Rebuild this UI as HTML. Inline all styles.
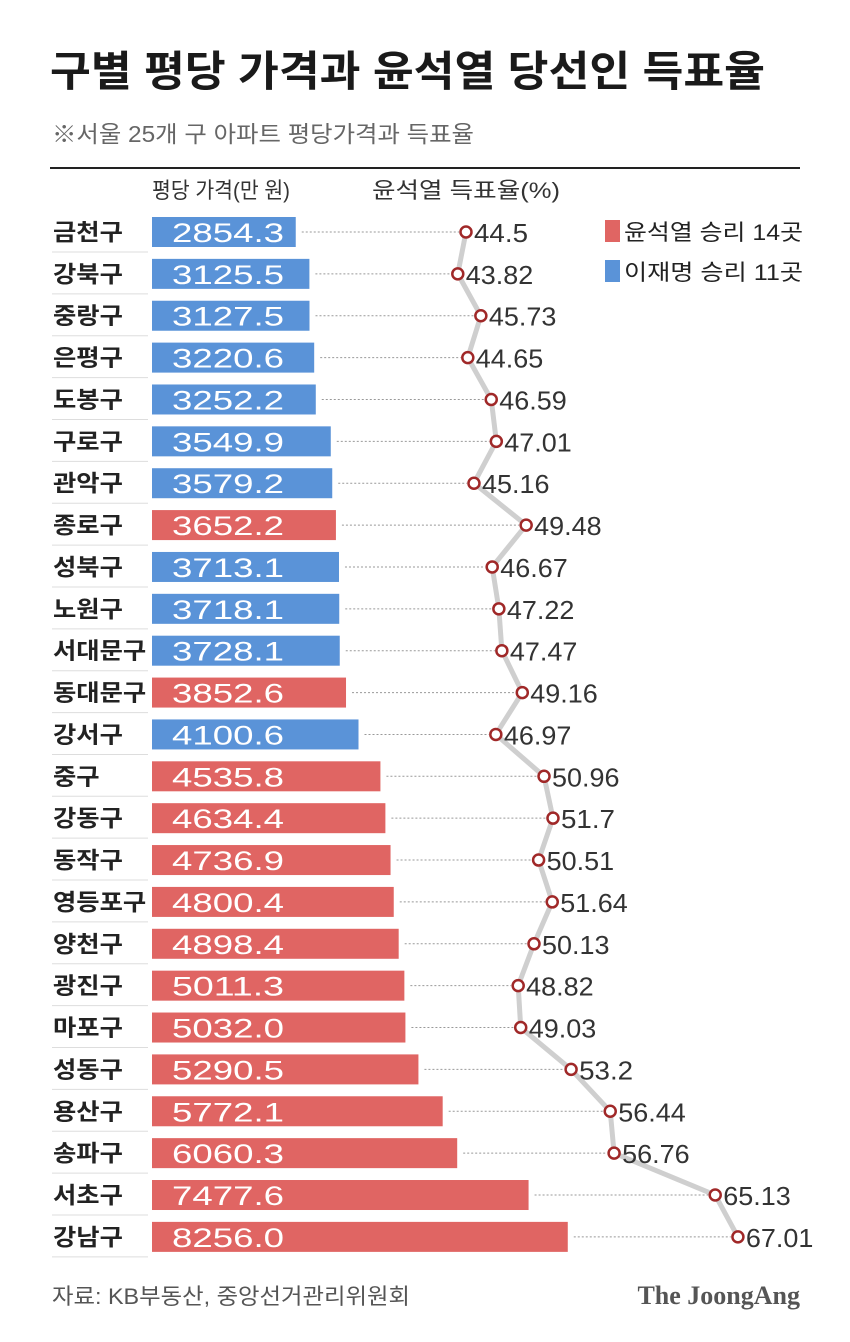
<!DOCTYPE html>
<html><head><meta charset="utf-8">
<style>
body{margin:0;background:#fff;width:850px;height:1337px;overflow:hidden;font-family:"Liberation Sans","Noto Sans CJK KR",sans-serif;color:#222}
svg text{font-family:"Liberation Sans","Noto Sans CJK KR",sans-serif}
</style></head><body>
<svg id="chart" width="850" height="1337" xmlns="http://www.w3.org/2000/svg">
<text x="50" y="86" font-size="42" font-weight="bold" fill="#1a1a1a" textLength="715" lengthAdjust="spacingAndGlyphs">구별 평당 가격과 윤석열 당선인 득표율</text>
<text x="52" y="142" font-size="23" fill="#666" textLength="422" lengthAdjust="spacingAndGlyphs">※서울 25개 구 아파트 평당가격과 득표율</text>
<line x1="50" y1="168" x2="800" y2="168" stroke="#222" stroke-width="2"/>
<text x="152" y="198" font-size="22" fill="#333" textLength="138" lengthAdjust="spacingAndGlyphs">평당 가격(만 원)</text>
<text x="372" y="198" font-size="22" fill="#333" textLength="188" lengthAdjust="spacingAndGlyphs">윤석열 득표율(%)</text>
<rect x="605" y="220" width="15" height="22" fill="#e06563"/>
<text x="624" y="240" font-size="22" fill="#222" textLength="179" lengthAdjust="spacingAndGlyphs">윤석열 승리 14곳</text>
<rect x="605" y="260" width="15" height="22" fill="#5a93d8"/>
<text x="624" y="280" font-size="22" fill="#222" textLength="179" lengthAdjust="spacingAndGlyphs">이재명 승리 11곳</text>
<g id="rows"></g>
<text x="52" y="1304" font-size="22" fill="#555" textLength="358" lengthAdjust="spacingAndGlyphs">자료: KB부동산, 중앙선거관리위원회</text>
<text x="800" y="1304" text-anchor="end" font-size="26" font-weight="bold" fill="#555" style="font-family:'Liberation Serif',serif">The JoongAng</text>
</svg>
<script>
const districts=["금천구","강북구","중랑구","은평구","도봉구","구로구","관악구","종로구","성북구","노원구","서대문구","동대문구","강서구","중구","강동구","동작구","영등포구","양천구","광진구","마포구","성동구","용산구","송파구","서초구","강남구"];
const prices=[2854.3,3125.5,3127.5,3220.6,3252.2,3549.9,3579.2,3652.2,3713.1,3718.1,3728.1,3852.6,4100.6,4535.8,4634.4,4736.9,4800.4,4898.4,5011.3,5032.0,5290.5,5772.1,6060.3,7477.6,8256.0];
const votes=[44.5,43.82,45.73,44.65,46.59,47.01,45.16,49.48,46.67,47.22,47.47,49.16,46.97,50.96,51.7,50.51,51.64,50.13,48.82,49.03,53.2,56.44,56.76,65.13,67.01];
const winners=["L","L","L","L","L","L","L","Y","L","L","L","Y","L","Y","Y","Y","Y","Y","Y","Y","Y","Y","Y","Y","Y"];
const NS="http://www.w3.org/2000/svg";
const g=document.getElementById('rows');
const xBar=v=>152+v*0.05036;
const xVote=v=>466+(v-44.5)*12.08;
const yRow=i=>232+i*41.87;
function mk(t,a){const e=document.createElementNS(NS,t);for(const k in a)e.setAttribute(k,a[k]);g.appendChild(e);return e;}
const pts=votes.map((v,i)=>xVote(v)+","+yRow(i)).join(" ");
const pl=mk('polyline',{points:pts,fill:"none",stroke:"#cfcfcf","stroke-width":5,"stroke-linejoin":"round"});


districts.forEach((d,i)=>{
  const y=yRow(i);
  const sep=mk('line',{x1:52,y1:y+20,x2:148,y2:y+20,stroke:"#ddd","stroke-width":1});
  
  
  const lb=mk('text',{x:53,y:y+8,"font-size":23,"font-weight":"bold",fill:"#222",textLength:d.length*23.3,lengthAdjust:"spacingAndGlyphs"});lb.textContent=d;
  
  
  const w=xBar(prices[i])-152;
  const r=mk('rect',{x:152,y:y-15,width:w,height:30,fill:winners[i]==="Y"?"#e06563":"#5a93d8"});
  
  
  const pt=mk('text',{x:172,y:y+10,"font-size":27,fill:"#fff",textLength:112,lengthAdjust:"spacingAndGlyphs"});pt.textContent=prices[i].toFixed(1);
  
  
  const dl=mk('line',{x1:152+w+6,y1:y,x2:xVote(votes[i])-7,y2:y,stroke:"#999","stroke-width":1,"stroke-dasharray":"2,2"});
  
  
  const c=mk('circle',{cx:xVote(votes[i]),cy:y,r:5.5,fill:"#fff",stroke:"#a02828","stroke-width":2.5});
  
  
  const s=String(votes[i]);
  const vt=mk('text',{x:xVote(votes[i])+8,y:y+10,"font-size":26,fill:"#333",textLength:s.length*13.5,lengthAdjust:"spacingAndGlyphs"});vt.textContent=s;
  
  
});
</script>
</body></html>
